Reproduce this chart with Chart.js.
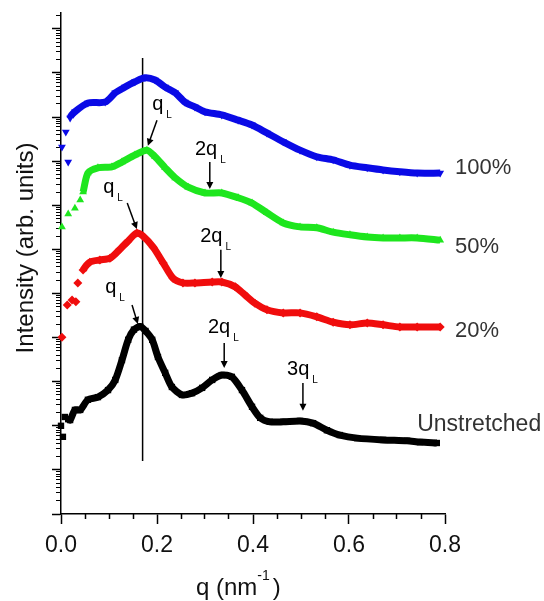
<!DOCTYPE html>
<html>
<head>
<meta charset="utf-8">
<script src="https://cdn.jsdelivr.net/npm/chart.js@4.4.1/dist/chart.umd.min.js"></script>
<style>
  html, body { margin: 0; padding: 0; background: #fff; }
  canvas { display: block; }
</style>
</head>
<body>
<canvas id="grafico" width="544" height="601"></canvas>
<script>
// Curvas de SAXS: q (nm^-1) e log10 da intensidade (unid. arb., com deslocamento vertical)
const qUnstretched = [0.000, 0.004, 0.008, 0.015, 0.019, 0.029, 0.040, 0.056, 0.077, 0.098, 0.113, 0.127, 0.140, 0.152, 0.165, 0.176, 0.190, 0.202, 0.217, 0.231, 0.252, 0.273, 0.294, 0.315, 0.335, 0.356, 0.377, 0.398, 0.415, 0.435, 0.463, 0.498, 0.525, 0.554, 0.581, 0.617, 0.671, 0.721, 0.748, 0.783];
const lgUnstretched = [2.00, 1.75, 2.20, 2.15, 2.13, 2.36, 2.36, 2.59, 2.65, 2.81, 3.04, 3.49, 3.95, 4.18, 4.25, 4.15, 3.95, 3.56, 3.20, 2.88, 2.70, 2.74, 2.86, 3.04, 3.15, 3.11, 2.81, 2.43, 2.18, 2.09, 2.09, 2.11, 2.06, 1.90, 1.79, 1.72, 1.68, 1.66, 1.63, 1.61];

const q20 = [0.002, 0.013, 0.023, 0.031, 0.035, 0.046, 0.060, 0.081, 0.102, 0.117, 0.138, 0.158, 0.171, 0.192, 0.213, 0.233, 0.254, 0.279, 0.315, 0.335, 0.363, 0.383, 0.404, 0.429, 0.463, 0.498, 0.533, 0.567, 0.602, 0.638, 0.671, 0.706, 0.742, 0.790];
const lg20 = [4.01, 4.74, 4.85, 4.81, 5.24, 5.53, 5.71, 5.76, 5.80, 5.94, 6.17, 6.37, 6.30, 6.05, 5.69, 5.35, 5.24, 5.24, 5.26, 5.26, 5.15, 4.97, 4.78, 4.63, 4.56, 4.56, 4.47, 4.35, 4.29, 4.33, 4.29, 4.24, 4.24, 4.24];

const q50 = [0.002, 0.015, 0.029, 0.040, 0.046, 0.056, 0.077, 0.106, 0.127, 0.154, 0.179, 0.196, 0.217, 0.238, 0.265, 0.300, 0.335, 0.369, 0.398, 0.429, 0.463, 0.498, 0.533, 0.567, 0.602, 0.638, 0.671, 0.706, 0.742, 0.790];
const lg50 = [6.51, 6.80, 6.93, 7.12, 7.30, 7.73, 7.85, 7.87, 7.98, 8.14, 8.25, 8.10, 7.85, 7.62, 7.41, 7.28, 7.28, 7.17, 7.05, 6.83, 6.60, 6.51, 6.49, 6.39, 6.33, 6.28, 6.26, 6.26, 6.26, 6.21];

const q100 = [0.002, 0.010, 0.015, 0.019, 0.029, 0.056, 0.092, 0.113, 0.133, 0.154, 0.175, 0.196, 0.217, 0.238, 0.258, 0.279, 0.300, 0.335, 0.369, 0.398, 0.429, 0.463, 0.498, 0.533, 0.567, 0.602, 0.638, 0.671, 0.706, 0.742, 0.790];
const lg100 = [8.32, 8.66, 7.98, 8.98, 9.12, 9.32, 9.34, 9.55, 9.68, 9.80, 9.89, 9.84, 9.68, 9.55, 9.34, 9.23, 9.12, 9.05, 8.93, 8.82, 8.64, 8.44, 8.25, 8.10, 8.03, 7.91, 7.85, 7.80, 7.76, 7.73, 7.73];

// linha vertical em q_L
const qLinha = [0.17, 0.17];
const lgLinha = [1.20, 10.34];

// eixos
const xMaiores = [0, 0.2, 0.4, 0.6, 0.8];
const xRotulos = ['0.0', '0.2', '0.4', '0.6', '0.8'];
const xMenores = [0.05, 0.1, 0.15, 0.25, 0.3, 0.35, 0.45, 0.5, 0.55, 0.65, 0.7, 0.75];
const decadas = [0, 1, 2, 3, 4, 5, 6, 7, 8, 9, 10, 11];
const yMax = 11.36;

// marcações dos picos (texto + seta) e nomes das curvas
const picos = [
  { texto: 'q',  x: 0.190, y: 9.16, seta: [0.200, 8.93, 0.181, 8.35] },
  { texto: '2q', x: 0.279, y: 8.14, seta: [0.310, 7.98, 0.310, 7.37] },
  { texto: 'q',  x: 0.088, y: 7.28, seta: [0.138, 7.05, 0.158, 6.46] },
  { texto: '2q', x: 0.290, y: 6.17, seta: [0.333, 5.99, 0.333, 5.35] },
  { texto: 'q',  x: 0.092, y: 5.01, seta: [0.148, 4.74, 0.160, 4.31] },
  { texto: '2q', x: 0.306, y: 4.10, seta: [0.340, 3.88, 0.340, 3.31] },
  { texto: '3q', x: 0.471, y: 3.15, seta: [0.504, 2.97, 0.504, 2.34] }
];
const nomes = [
  { texto: '100%', x: 0.821, y: 7.71 },
  { texto: '50%', x: 0.821, y: 5.92 },
  { texto: '20%', x: 0.821, y: 4.01 },
  { texto: 'Unstretched', x: 0.742, y: 1.88 }
];

const FONTE = '"Liberation Sans", Arial, sans-serif';
const pontos = (qs, ls) => qs.map((q, i) => ({ x: q, y: ls[i] }));

// os primeiros pontos ficam soltos, a faixa contínua começa em "inicio"
function serie(label, qs, ls, cor, estilo, rot, inicio) {
  return {
    label,
    data: pontos(qs, ls),
    borderColor: cor,
    backgroundColor: cor,
    borderWidth: 7,
    tension: 0.25,
    pointStyle: estilo,
    rotation: rot,
    pointRadius: 4.5,
    pointBorderWidth: 0,
    clip: false,
    segment: {
      borderColor: ctx => ctx.p0DataIndex < inicio ? 'rgba(0,0,0,0)' : undefined
    }
  };
}

function seta(ctx, x0, y0, x1, y1) {
  const ang = Math.atan2(y1 - y0, x1 - x0);
  ctx.lineWidth = 1.5;
  ctx.beginPath();
  ctx.moveTo(x0, y0);
  ctx.lineTo(x1 - 5 * Math.cos(ang), y1 - 5 * Math.sin(ang));
  ctx.stroke();
  ctx.save();
  ctx.translate(x1, y1);
  ctx.rotate(ang);
  ctx.beginPath();
  ctx.moveTo(0, 0);
  ctx.lineTo(-7, -3.5);
  ctx.lineTo(-7, 3.5);
  ctx.closePath();
  ctx.fill();
  ctx.restore();
}

const anotacoes = {
  id: 'anotacoes',
  afterDraw(chart) {
    const { ctx, scales: { x, y } } = chart;
    ctx.save();
    ctx.fillStyle = '#000';
    ctx.strokeStyle = '#000';
    ctx.textAlign = 'left';
    ctx.textBaseline = 'alphabetic';

    picos.forEach(p => {
      const px = x.getPixelForValue(p.x), py = y.getPixelForValue(p.y);
      ctx.font = '20px ' + FONTE;
      ctx.fillText(p.texto, px, py);
      const w = ctx.measureText(p.texto).width;
      ctx.font = '10px ' + FONTE;
      ctx.fillText('L', px + w + 3, py + 8);
      const [a, b, c, d] = p.seta;
      seta(ctx, x.getPixelForValue(a), y.getPixelForValue(b), x.getPixelForValue(c), y.getPixelForValue(d));
    });

    ctx.fillStyle = '#333';
    nomes.forEach(n => {
      ctx.font = (n.texto === 'Unstretched' ? '23px ' : '22px ') + FONTE;
      ctx.fillText(n.texto, x.getPixelForValue(n.x), y.getPixelForValue(n.y));
    });

    // título do eixo y
    ctx.fillStyle = '#111';
    ctx.save();
    ctx.translate(33, 248);
    ctx.rotate(-Math.PI / 2);
    ctx.textAlign = 'center';
    ctx.font = '24px ' + FONTE;
    ctx.fillText('Intensity (arb. units)', 0, 0);
    ctx.restore();

    // título do eixo x: q (nm^-1)
    let tx = 196;
    ctx.font = '24px ' + FONTE;
    ctx.fillText('q (nm', tx, 595);
    tx += ctx.measureText('q (nm').width;
    ctx.font = '14px ' + FONTE;
    ctx.fillText('-1', tx, 580);
    tx += ctx.measureText('-1').width + 3;
    ctx.font = '24px ' + FONTE;
    ctx.fillText(')', tx, 595);
    ctx.restore();
  }
};

new Chart(document.getElementById('grafico'), {
  type: 'line',
  data: {
    datasets: [
      serie('Unstretched', qUnstretched, lgUnstretched, '#000000', 'rect', 0, 3),
      serie('20%', q20, lg20, '#f00d0d', 'rectRot', 0, 5),
      serie('50%', q50, lg50, '#1ee61e', 'triangle', 0, 4),
      serie('100%', q100, lg100, '#0a0ae6', 'triangle', 180, 3),
      {
        label: 'qL',
        data: pontos(qLinha, lgLinha),
        borderColor: '#000',
        borderWidth: 1.5,
        pointRadius: 0
      }
    ]
  },
  options: {
    responsive: false,
    devicePixelRatio: 1,
    animation: false,
    events: [],
    layout: { padding: { top: 13, right: 99, left: 0, bottom: 0 } },
    plugins: { legend: { display: false }, tooltip: { enabled: false } },
    scales: {
      x: {
        type: 'linear', position: 'bottom', weight: 1,
        min: 0, max: 0.8,
        afterBuildTicks: s => { s.ticks = xMaiores.map(v => ({ value: v })); },
        ticks: {
          callback: (v, i) => xRotulos[i],
          font: { family: FONTE, size: 23 },
          color: '#111',
          padding: 8,
          maxRotation: 0,
          autoSkip: false
        },
        grid: { drawOnChartArea: false, tickLength: 10, tickColor: '#000', tickWidth: 1.5 },
        border: { color: '#000', width: 1.5 },
        afterFit: s => { s.height = 87; }
      },
      x2: {
        type: 'linear', position: 'bottom', weight: 0,
        min: 0, max: 0.8,
        afterBuildTicks: s => { s.ticks = xMenores.map(v => ({ value: v })); },
        ticks: { display: false },
        grid: { drawOnChartArea: false, tickLength: 5, tickColor: '#000', tickWidth: 1.5 },
        border: { display: false },
        afterFit: s => { s.height = 0; }
      },
      y: {
        type: 'linear', position: 'left', weight: 1,
        min: 0, max: yMax,
        afterBuildTicks: s => { s.ticks = decadas.map(v => ({ value: v })); },
        ticks: { display: false },
        grid: { drawOnChartArea: false, tickLength: 9, tickColor: '#000', tickWidth: 1.5 },
        border: { color: '#000', width: 1.5 },
        afterFit: s => { s.width = 61; }
      },
      y2: {
        type: 'linear', position: 'left', weight: 0,
        min: 0, max: yMax,
        // marcas menores de escala logarítmica (2..9 em cada década)
        afterBuildTicks: s => {
          const t = [];
          decadas.forEach(n => {
            for (let k = 2; k <= 9; k++) {
              const v = n + Math.log10(k);
              if (v <= yMax) t.push({ value: v });
            }
          });
          s.ticks = t;
        },
        ticks: { display: false },
        grid: { drawOnChartArea: false, tickLength: 5, tickColor: '#000', tickWidth: 1 },
        border: { display: false },
        afterFit: s => { s.width = 0; }
      }
    }
  },
  plugins: [anotacoes]
});
</script>
</body>
</html>
